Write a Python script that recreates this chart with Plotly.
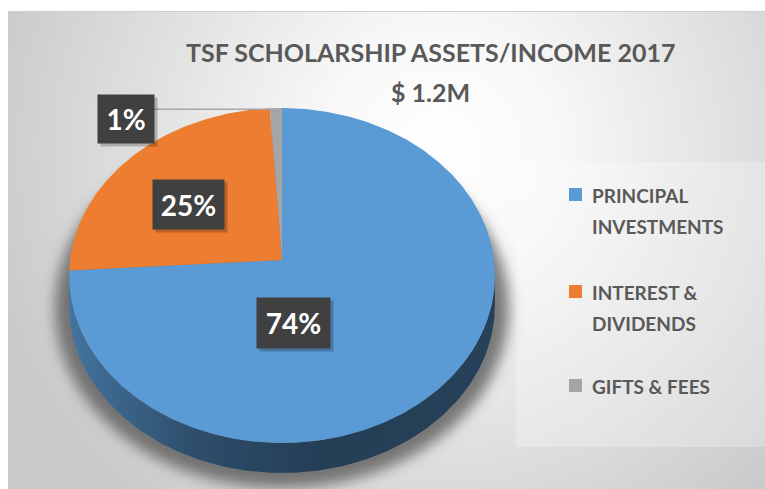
import base64
import numpy as np
import plotly.graph_objects as go

# ---------------- data ----------------
categories = ["PRINCIPAL<br>INVESTMENTS", "INTEREST &<br>DIVIDENDS", "GIFTS & FEES"]
values = [74, 25, 1]
title_lines = ["TSF SCHOLARSHIP ASSETS/INCOME 2017", "$ 1.2M"]

# ---------------- style ----------------
colors = ["#5B9BD5", "#ED7D31", "#A5A5A5"]
W, H = 765, 489
CX, CY = 282, 260          # projected pie apex (pixels)
S, S2, K = 212, 166, 0.0926  # horizontal / vertical radius, perspective factor
DEPTH = 30
FONT = "Lato"
TXT = "#595959"
label_pos = [(293.5, 323), (188.5, 204.5), (126, 119)]
label_size = [(73, 50), (71, 49), (56, 48)]


def proj(theta_deg, dy=0.0):
    t = np.radians(theta_deg)
    u, v = np.sin(t), np.cos(t)
    den = 1 + K * v
    return CX + S * u / den, CY - S2 * v / den + dy


def darker(hexc, f):
    h = hexc.lstrip("#")
    r, g, b = (int(h[i:i + 2], 16) for i in (0, 2, 4))
    return "rgb(%d,%d,%d)" % (r * f, g * f, b * f)


fig = go.Figure()

total = float(sum(values))
bounds = np.concatenate([[0], np.cumsum(values)]) / total * 360.0

# visible side range (front)
th_r = np.degrees(np.arccos(-K))
th_l = 360 - th_r

# side faces
for i, c in enumerate(colors):
    a0, a1 = bounds[i], bounds[i + 1]
    lo, hi = max(a0, th_r), min(a1, th_l)
    if hi <= lo:
        continue
    th = np.linspace(lo, hi, 200)
    xt, yt = proj(th)
    xb, yb = proj(th[::-1], DEPTH)
    fig.add_trace(go.Scatter(
        x=np.concatenate([xt, xb]), y=np.concatenate([yt, yb]),
        mode="lines", line=dict(width=0), fill="toself",
        fillgradient=dict(type="horizontal", colorscale=[
            [0, darker(c, 0.75)], [0.3, darker(c, 0.5)],
            [0.6, darker(c, 0.4)], [1, darker(c, 0.42)]]),
        hoverinfo="skip", showlegend=False))

# top faces
for i, c in enumerate(colors):
    a0, a1 = bounds[i], bounds[i + 1]
    th = np.linspace(a0, a1, max(int((a1 - a0) * 2), 8))
    xs, ys = proj(th)
    fig.add_trace(go.Scatter(
        x=np.concatenate([[CX], xs, [CX]]), y=np.concatenate([[CY], ys, [CY]]),
        mode="lines", line=dict(width=0, color=c), fill="toself", fillcolor=c,
        hoverinfo="skip", showlegend=False, name=categories[i]))

annotations = []
shapes = []

# title
for t, yy in zip(title_lines, [52, 92]):
    annotations.append(dict(x=430, y=yy, xref="x", yref="y", text="<b>%s</b>" % t,
                            showarrow=False, font=dict(family=FONT, size=25, color=TXT),
                            xanchor="center", yanchor="middle"))

# data labels
for i, v in enumerate(values):
    pct = "%d%%" % round(v / total * 100)
    (lx, ly), (bw, bh) = label_pos[i], label_size[i]
    annotations.append(dict(x=lx + 3, y=ly + 3, xref="x", yref="y", text=" ",
                            showarrow=False, width=bw, height=bh, borderpad=0,
                            bgcolor="rgba(0,0,0,0.22)", xanchor="center", yanchor="middle"))
    annotations.append(dict(x=lx, y=ly, xref="x", yref="y", text="<b>%s</b>" % pct,
                            showarrow=False, width=bw, height=bh, borderpad=0,
                            bgcolor="#404040", font=dict(family=FONT, size=28, color="white"),
                            xanchor="center", yanchor="middle", valign="middle"))

# leader line for smallest slice
mid_last = (bounds[-2] + bounds[-1]) / 2
ex, ey = proj(mid_last)
lx, ly = label_pos[2]
shapes.append(dict(type="line", xref="x", yref="y", x0=lx + label_size[2][0] / 2, y0=ey + 1,
                   x1=ex, y1=ey + 1, line=dict(color="#A6A6A6", width=1.5)))

# legend (manual)
leg_rows = [195, 292, 386]
for i, name in enumerate(categories):
    y0 = leg_rows[i]
    shapes.append(dict(type="rect", xref="x", yref="y", x0=569, x1=582, y0=y0 - 7, y1=y0 + 6,
                       fillcolor=colors[i], line=dict(width=0)))
    for k, line in enumerate(name.split("<br>")):
        annotations.append(dict(x=590, y=y0 + 31 * k, xref="x", yref="y", text="<b>%s</b>" % line,
                                showarrow=False, font=dict(family=FONT, size=19, color=TXT),
                                xanchor="left", yanchor="middle"))

# background image (gradient, legend panel, pie shadow)
svg = f'''<svg xmlns="http://www.w3.org/2000/svg" width="{W}" height="{H}" viewBox="0 0 {W} {H}">
<defs>
<radialGradient id="bg" gradientUnits="userSpaceOnUse" cx="440" cy="150" r="470">
<stop offset="0" stop-color="#ffffff"/>
<stop offset="0.25" stop-color="#f8f8f8"/>
<stop offset="1" stop-color="#c9c9c9"/>
</radialGradient>
<filter id="bl" x="-30%" y="-30%" width="160%" height="160%"><feGaussianBlur stdDeviation="7"/></filter>
</defs>
<rect x="0" y="0" width="{W}" height="{H}" fill="#ffffff"/>
<rect x="8" y="11" width="{W - 8}" height="{H - 11}" fill="url(#bg)"/>
<line x1="8" y1="11.5" x2="{W}" y2="11.5" stroke="#cfcfcf" stroke-width="1"/>
<rect x="516" y="162" width="{W - 516}" height="285" fill="#ffffff" fill-opacity="0.25"/>
<ellipse cx="{CX}" cy="{CY + 48}" rx="{S + 15}" ry="{S2 + 14}" fill="#5a5a5a" fill-opacity="0.8" filter="url(#bl)"/>
</svg>'''
src = "data:image/svg+xml;base64," + base64.b64encode(svg.encode()).decode()

fig.update_layout(
    width=W, height=H, margin=dict(l=0, r=0, t=0, b=0),
    paper_bgcolor="white", plot_bgcolor="rgba(0,0,0,0)",
    xaxis=dict(range=[0, W], visible=False, fixedrange=True),
    yaxis=dict(range=[H, 0], visible=False, fixedrange=True),
    showlegend=False, annotations=annotations, shapes=shapes,
    images=[dict(source=src, xref="paper", yref="paper", x=0, y=1, sizex=1, sizey=1,
                 sizing="stretch", xanchor="left", yanchor="top", layer="below")],
)

fig.write_html("out.html", config={"displayModeBar": False},
               post_script="document.body.style.margin='0';document.body.style.overflow='hidden';")
